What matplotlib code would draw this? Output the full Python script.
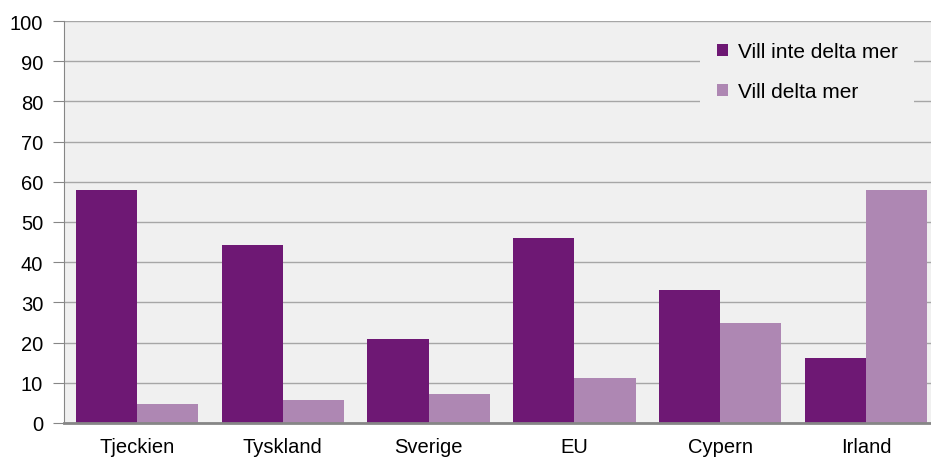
import matplotlib
matplotlib.use("Agg")
import matplotlib.pyplot as plt
import numpy as np

plt.rcParams['font.family'] = ['Liberation Sans', 'DejaVu Sans']

# data
countries = ["Tjeckien", "Tyskland", "Sverige", "EU", "Cypern", "Irland"]
vill_inte = [58, 44.2, 21, 46, 33, 16.2]
vill_mer = [4.8, 5.7, 7.3, 11.3, 25, 58]
labels = ["Vill inte delta mer", "Vill delta mer"]

dark = "#6e1874"
light = "#ae87b3"

fig = plt.figure(figsize=(9.31, 4.6), dpi=100)
ax = fig.add_axes([64 / 931, 36 / 460, 875 / 931, 402 / 460])
ax.set_facecolor("#f0f0f0")

x = np.arange(len(countries))
w = 0.42
ax.bar(x - w / 2, vill_inte, w, color=dark, label=labels[0], zorder=3)
ax.bar(x + w / 2, vill_mer, w, color=light, label=labels[1], zorder=3)

ax.set_xlim(-0.5, len(countries) - 0.5)
ax.set_ylim(0, 100)
ax.set_yticks(range(0, 101, 10))
ax.yaxis.grid(True, color="#a6a6a6", linewidth=1, zorder=0)
ax.set_xticks(x)
ax.set_xticklabels(countries)
ax.tick_params(axis="x", length=0, labelsize=14.5, pad=10)
ax.tick_params(axis="y", length=8, color="#868686", labelsize=14.5, pad=7)

for s in ["top", "right"]:
    ax.spines[s].set_visible(False)
ax.spines["left"].set_color("#868686")
ax.spines["bottom"].set_color("#868686")
ax.spines["bottom"].set_linewidth(2)
ax.spines["bottom"].set_zorder(4)

leg = ax.legend(loc="upper left", bbox_to_anchor=(0.727, 0.988), frameon=True,
                fontsize=15, handlelength=0.55, handleheight=0.55,
                labelspacing=1.0, handletextpad=0.45, borderaxespad=0.0,
                borderpad=0.8)
leg.get_frame().set_facecolor("#f0f0f0")
leg.get_frame().set_edgecolor("none")
leg.get_frame().set_alpha(1)

fig.savefig("out.png", dpi=100)
